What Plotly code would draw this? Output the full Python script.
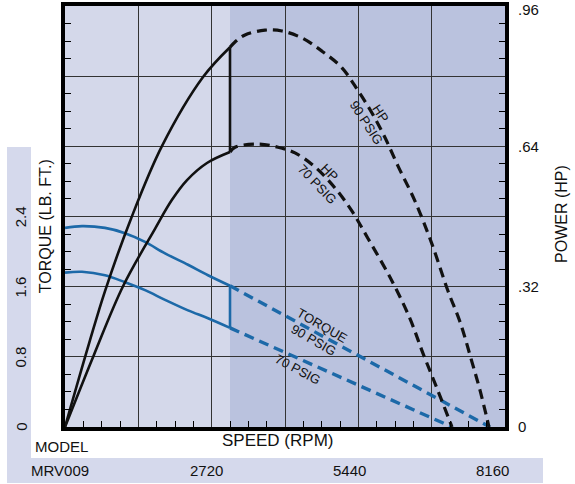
import plotly.graph_objects as go

# ---------------- data ----------------
# Power, solid part (HP) vs speed (RPM)
speed_hp90 = [0, 445, 742, 1224, 1800, 2560, 3060]
hp90 = [0, 0.19, 0.31, 0.475, 0.641, 0.798, 0.866]
speed_hp70 = [0, 538, 1076, 1669, 1984, 2263, 2633, 3060]
hp70 = [0, 0.165, 0.321, 0.452, 0.518, 0.563, 0.602, 0.627]

# Power, dashed (extended) part
speed_hp90_ext = [3060, 3153, 3338, 3709, 4024, 4395, 4766, 5137, 5434, 5693,
                  5934, 6176, 6491, 6806, 7103, 7325, 7548, 7696, 7863]
hp90_ext = [0.866, 0.878, 0.894, 0.905, 0.903, 0.887, 0.857, 0.819, 0.767, 0.716,
            0.660, 0.595, 0.515, 0.417, 0.310, 0.240, 0.148, 0.084, 0]
speed_hp70_ext = [3060, 3153, 3579, 3950, 4265, 4636, 5007, 5323, 5619, 6064,
                  6398, 6639, 6899, 7177]
hp70_ext = [0.627, 0.638, 0.645, 0.638, 0.625, 0.593, 0.545, 0.492, 0.430, 0.333,
            0.247, 0.168, 0.088, 0]

# Torque, solid part (LB. FT.)
speed_tq = [0, 315, 742, 1113, 1484, 1855, 2281, 2652, 3060]
tq90 = [2.27, 2.29, 2.27, 2.21, 2.11, 1.98, 1.85, 1.73, 1.61]
tq70 = [1.76, 1.77, 1.73, 1.65, 1.56, 1.45, 1.33, 1.24, 1.13]

# Torque, dashed part
speed_tq90_ext = [3060, 7880]
tq90_ext = [1.61, 0]
speed_tq70_ext = [3060, 7177]
tq70_ext = [1.13, 0]

# axis ticks / labels
speed_labels = ["2720", "5440", "8160"]
torque_ticks = [0, 0.8, 1.6, 2.4]
torque_ticktext = ["0", "0.8", "1.6", "2.4"]
power_ticks = [0, 0.32, 0.64, 0.96]
power_ticktext = ["0", ".32", ".64", ".96"]

# ---------------- styling ----------------
FONT = "Liberation Sans, Arial, sans-serif"
BLUE = "#1c69a8"
BLACK = "#111111"
LIGHT_BG = "#d4d8ea"
DARK_BG = "#bac2de"
STRIP = "#d5d9ec"
DASH = "10px,6px"

fig = go.Figure()

def add(x, y, color, width, dash=None, yaxis="y", spline=True):
    fig.add_trace(go.Scatter(
        x=x, y=y, mode="lines", yaxis=yaxis, hoverinfo="skip", showlegend=False,
        cliponaxis=False,
        line=dict(color=color, width=width, dash=dash,
                  shape="spline" if spline else "linear", smoothing=1.0)))

# torque
add(speed_tq, tq90, BLUE, 2.6)
add(speed_tq, tq70, BLUE, 2.6)
add([speed_tq[-1], speed_tq[-1]], [tq90[-1], tq70[-1]], BLUE, 2.6, spline=False)
add(speed_tq90_ext, tq90_ext, BLUE, 3.4, dash=DASH, spline=False)
add(speed_tq70_ext, tq70_ext, BLUE, 3.4, dash=DASH, spline=False)

# power
add(speed_hp90, hp90, BLACK, 2.6, yaxis="y2")
add(speed_hp70, hp70, BLACK, 2.6, yaxis="y2")
add([speed_hp90[-1], speed_hp90[-1]], [hp90[-1], hp70[-1]], BLACK, 2.6,
    yaxis="y2", spline=False)
add(speed_hp90_ext, hp90_ext, BLACK, 3.2, dash=DASH, yaxis="y2")
add(speed_hp70_ext, hp70_ext, BLACK, 3.2, dash=DASH, yaxis="y2")

# background regions of the plot
shapes = [
    dict(type="rect", xref="x", yref="paper", x0=0, x1=speed_tq[-1], y0=0, y1=1,
         fillcolor=LIGHT_BG, line_width=0, layer="below"),
    dict(type="rect", xref="x", yref="paper", x0=speed_tq[-1], x1=8160, y0=0, y1=1,
         fillcolor=DARK_BG, line_width=0, layer="below"),
    # left torque label strip
    dict(type="rect", xref="paper", yref="paper", x0=-0.1318, x1=-0.0773,
         y0=-0.0736, y1=0.665, fillcolor=STRIP, line_width=0, layer="below"),
    # bottom model band
    dict(type="rect", xref="paper", yref="paper", x0=-0.1318, x1=1.0864,
         y0=-0.133, y1=-0.0736, fillcolor=STRIP, line_width=0, layer="below"),
    # top frame edge
    dict(type="line", xref="paper", yref="paper", x0=-0.0091, x1=1.0091,
         ysizemode="pixel", yanchor=1, y0=2, y1=2,
         line=dict(color="black", width=4), layer="above"),
]

def pann(x, y, text, size, angle=0):
    return dict(x=x, y=y, xref="paper", yref="paper", text=text, textangle=angle,
                showarrow=False, xanchor="center", yanchor="middle",
                font=dict(family=FONT, size=size, color="#111"))

ann = []
# left torque tick labels (rotated)
for v, t in zip(torque_ticks, torque_ticktext):
    ann.append(dict(x=-0.1005, xref="paper", y=v, yref="y", text=t, textangle=-90,
                    showarrow=False, font=dict(family=FONT, size=15, color="#111"),
                    xanchor="center", yanchor="middle"))
# top power label (kept inside the page)
ann.append(dict(x=1, xref="paper", y=power_ticks[-1], yref="y2",
                text=power_ticktext[-1], showarrow=False, xanchor="left",
                yanchor="middle", xshift=11, yshift=-3,
                font=dict(family=FONT, size=15, color="#111")))
ann += [
    pann(-0.0455, 0.477, "TORQUE (LB. FT.)", 16, -90),
    pann(1.1295, 0.506, "POWER (HP)", 16, -90),
    pann(-0.009, -0.0475, "MODEL", 15),
    pann(0.484, -0.033, "SPEED (RPM)", 17),
    pann(-0.0114, -0.103, "MRV009", 15),
]
for xp, t in zip([0.3205, 0.6477, 0.9727], speed_labels):
    ann.append(pann(xp, -0.103, t, 15))

# curve labels
lab_font = dict(family=FONT, size=13, color="#111")
ann += [
    dict(x=5720, y=0.705, xref="x", yref="y2", text="HP<br>90 PSIG", textangle=57,
         showarrow=False, font=lab_font),
    dict(x=4785, y=0.568, xref="x", yref="y2", text="HP<br>70 PSIG", textangle=46,
         showarrow=False, font=lab_font),
    dict(x=4692, y=1.07, xref="x", yref="y", text="TORQUE<br>90 PSIG", textangle=30,
         showarrow=False, font=lab_font),
    dict(x=4320, y=0.65, xref="x", yref="y", text="70 PSIG", textangle=28,
         showarrow=False, font=lab_font),
]

fig.update_layout(
    width=575, height=484,
    margin=dict(l=65, r=70, t=6, b=57, autoexpand=False),
    paper_bgcolor="white", plot_bgcolor=LIGHT_BG,
    font=dict(family=FONT, color="#111"),
    showlegend=False, hovermode=False,
    shapes=shapes, annotations=ann,
    xaxis=dict(range=[0, 8160], dtick=1360, tick0=0, showgrid=True,
               gridcolor="#333333", gridwidth=1.2, zeroline=False,
               showticklabels=False, ticks="", automargin=False,
               showline=True, linecolor="black", linewidth=4, mirror=True,
               minor=dict(ticks="inside", dtick=340, tick0=0, ticklen=6,
                          tickcolor="black", tickwidth=1, showgrid=False)),
    yaxis=dict(range=[0, 4.8], dtick=0.8, tick0=0, showgrid=True,
               gridcolor="#333333", gridwidth=1.2, zeroline=False,
               showticklabels=False, ticks="", automargin=False,
               showline=True, linecolor="black", linewidth=4, mirror="allticks",
               minor=dict(ticks="inside", dtick=0.2, tick0=0, ticklen=6,
                          tickcolor="black", tickwidth=1, showgrid=False)),
    yaxis2=dict(range=[0, 0.96], overlaying="y", side="right",
                tickvals=power_ticks[:-1], ticktext=power_ticktext[:-1],
                showgrid=False, zeroline=False, showline=False, ticks="",
                ticklabelstandoff=12, automargin=False, ticklabeloverflow="allow",
                tickfont=dict(family=FONT, size=15, color="#111")),
)

fig.write_html(
    "out.html", config={"displayModeBar": False},
    post_script=("document.body.style.margin='0';"
                 "document.documentElement.style.overflow='hidden';"
                 "document.body.style.overflow='hidden';"
                 "window.scrollTo(0,0);"))
